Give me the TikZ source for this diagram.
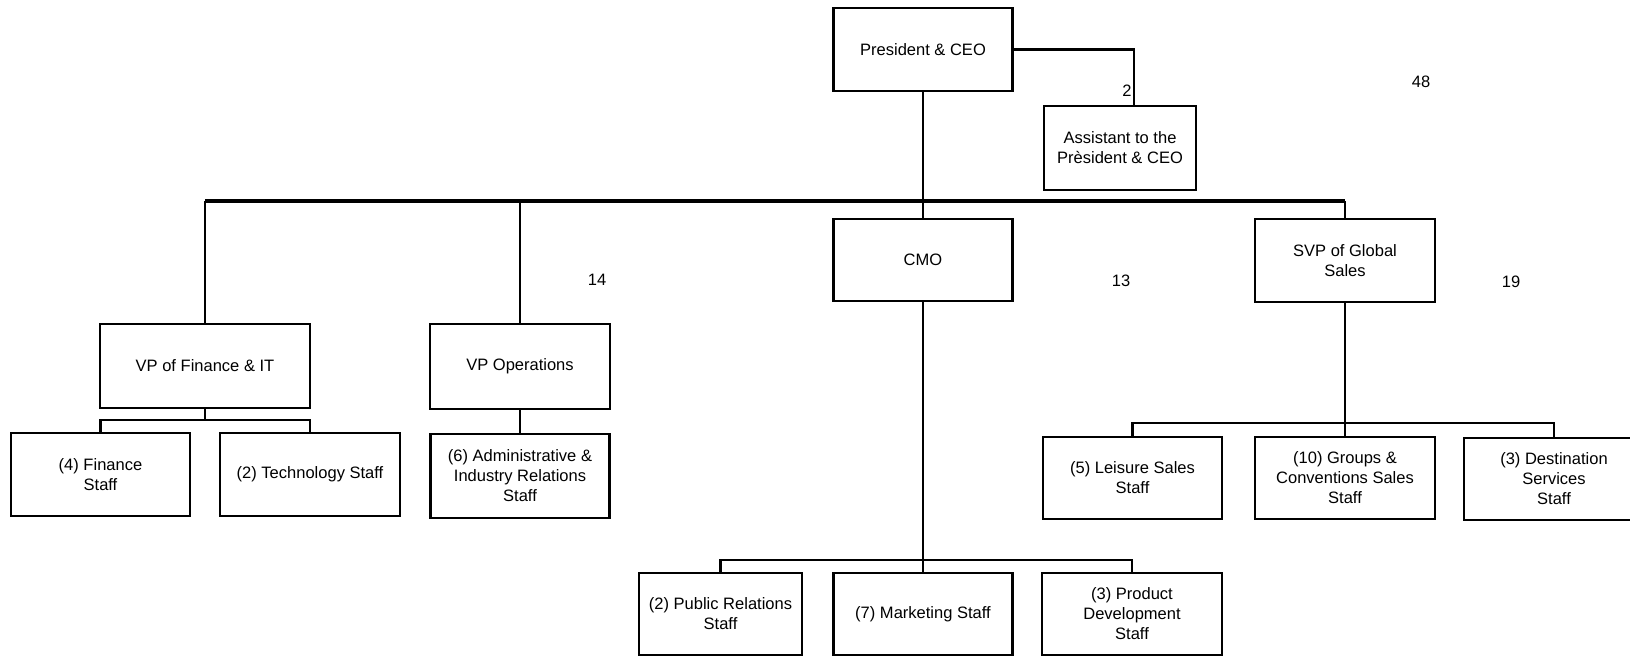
\documentclass[tikz,border=0pt]{standalone}
\usepackage{fontspec}
\setmainfont{Liberation Sans}
\begin{document}
\begin{tikzpicture}[x=0.02cm, y=-0.02cm,
  box/.style={draw, line width=1.25pt, inner sep=0pt, align=center, fill=white,
              font=\fontsize{9.4}{11.4}\selectfont},
  conn/.style={line width=1.5pt},
  mainbus/.style={line width=2.3pt},
  num/.style={inner sep=0pt, font=\fontsize{9.4}{11.4}\selectfont}]
\useasboundingbox (0,0) rectangle (1630,657);
\clip (0,0) rectangle (1630,657);
\fill[white] (0,0) rectangle (1630,657);

% boxes
\node[box, minimum width=3.58cm, minimum height=1.66cm] (pres) at (923,49.5) {President \& CEO};
\node[box, minimum width=3.04cm, minimum height=1.68cm] (asst) at (1120,148) {Assistant to the\\Prèsident \& CEO};

\node[box, minimum width=4.2cm, minimum height=1.68cm] (vpf) at (205,366) {VP of Finance \& IT};
\node[box, minimum width=3.6cm, minimum height=1.7cm] (vpo) at (520,366.5) {VP Operations};
\node[box, minimum width=3.58cm, minimum height=1.64cm] (cmo) at (923,260) {CMO};
\node[box, minimum width=3.6cm, minimum height=1.66cm] (svp) at (1345,260.5) {SVP of Global\\Sales};

\node[box, minimum width=3.58cm, minimum height=1.66cm] (fin) at (100.5,474.5) {(4) Finance\\Staff};
\node[box, minimum width=3.6cm, minimum height=1.66cm] (tech) at (310,474.5) {(2) Technology Staff};
\node[box, minimum width=3.58cm, minimum height=1.68cm] (adm) at (520,476) {(6) Administrative \&\\Industry Relations\\Staff};

\node[box, minimum width=3.58cm, minimum height=1.64cm] (leis) at (1132.5,478) {(5) Leisure Sales\\Staff};
\node[box, minimum width=3.6cm, minimum height=1.64cm] (grp) at (1345,478) {(10) Groups \&\\Conventions Sales\\Staff};
\node[box, minimum width=3.6cm, minimum height=1.64cm] (dest) at (1554,479) {(3) Destination\\Services\\Staff};

\node[box, minimum width=3.26cm, minimum height=1.64cm] (pr) at (720.5,614) {(2) Public Relations\\Staff};
\node[box, minimum width=3.58cm, minimum height=1.64cm] (mkt) at (923,614) {(7) Marketing Staff};
\node[box, minimum width=3.6cm, minimum height=1.64cm] (prod) at (1132,614) {(3) Product\\Development\\Staff};

% junction coordinates
\coordinate (aj) at (1134,49.5);
\coordinate (bus) at (923,201);
\coordinate (fb) at (205,420);
\coordinate (cb) at (923,560);
\coordinate (sb) at (1345,423);

% connectors
\draw[conn] (pres.east) -- (aj) -- (aj |- asst.north);
\draw[conn] (pres.south) -- (cmo.north);
\draw[mainbus] (vpf.north |- bus) -- (svp.north |- bus);
\draw[conn] (vpf.north) -- (vpf.north |- bus);
\draw[conn] (vpo.north) -- (vpo.north |- bus);
\draw[conn] (svp.north) -- (svp.north |- bus);

\draw[conn] (vpf.south) -- (fb);
\draw[conn] (fin.north) |- (fb) -| (tech.north);
\draw[conn] (vpo.south) -- (adm.north);

\draw[conn] (cmo.south) -- (mkt.north);
\draw[conn] (pr.north) |- (cb) -| (prod.north);

\draw[conn] (svp.south) -- (grp.north);
\draw[conn] (leis.north) |- (sb) -| (dest.north);

% head counts
\node[num] (n2) at (1127,91) {2};
\node[num] (n48) at (1421,82) {48};
\node[num] (n14) at (597,280) {14};
\node[num] (n13) at (1121,281) {13};
\node[num] (n19) at (1511,282) {19};
\end{tikzpicture}
\end{document}
